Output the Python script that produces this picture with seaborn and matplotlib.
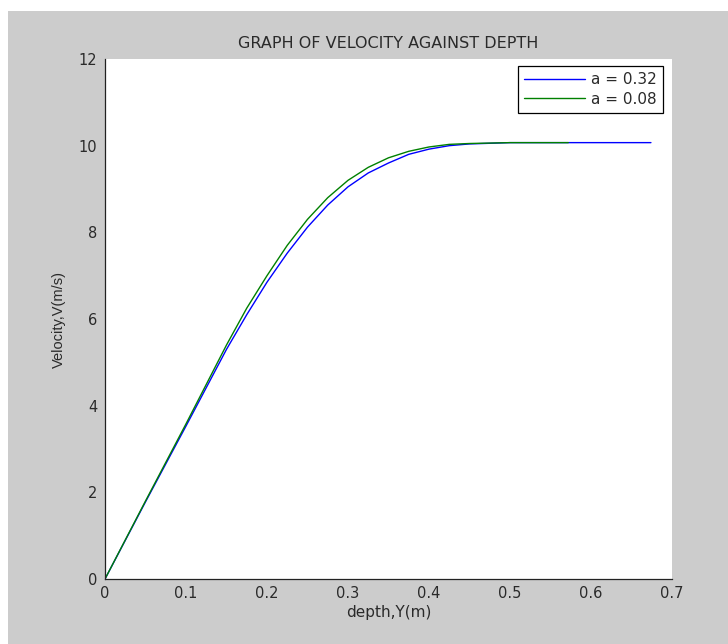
import pandas as pd
import seaborn as sns
import matplotlib.pyplot as plt
from matplotlib.patches import Rectangle

# values
depth_a032 = [0, 0.05, 0.1, 0.15, 0.175, 0.2, 0.225, 0.25, 0.275, 0.3, 0.325,
              0.35, 0.375, 0.4, 0.425, 0.45, 0.5, 0.674]
vel_a032 = [0, 1.78, 3.53, 5.3, 6.1, 6.85, 7.52, 8.12, 8.63, 9.05, 9.37,
            9.6, 9.8, 9.92, 10.0, 10.04, 10.07, 10.07]

depth_a008 = [0, 0.05, 0.1, 0.15, 0.175, 0.2, 0.225, 0.25, 0.275, 0.3, 0.325,
              0.35, 0.375, 0.4, 0.425, 0.45, 0.5, 0.572]
vel_a008 = [0, 1.8, 3.58, 5.4, 6.25, 7.0, 7.7, 8.3, 8.8, 9.2, 9.5,
            9.72, 9.87, 9.97, 10.03, 10.05, 10.07, 10.07]

labels = ['a = 0.32', 'a = 0.08']
x_ticks = [0, 0.1, 0.2, 0.3, 0.4, 0.5, 0.6, 0.7]
y_ticks = [0, 2, 4, 6, 8, 10, 12]

df = pd.concat([
    pd.DataFrame({'depth': depth_a032, 'velocity': vel_a032, 'series': labels[0]}),
    pd.DataFrame({'depth': depth_a008, 'velocity': vel_a008, 'series': labels[1]}),
], ignore_index=True)

sns.set_style('white')
plt.rcParams['font.family'] = ['DejaVu Sans']

fig = plt.figure(figsize=(7.28, 6.44), dpi=100, facecolor='white')
fig.patches.append(Rectangle((8 / 728, 0), 1, 1 - 11 / 644, transform=fig.transFigure,
                             facecolor='#cccccc', edgecolor='none', zorder=-1))

ax = fig.add_axes([105 / 728, 65 / 644, 567 / 728, 520 / 644])
ax.set_facecolor('white')

sns.lineplot(data=df, x='depth', y='velocity', hue='series',
             palette={labels[0]: '#0000ff', labels[1]: '#008000'},
             estimator=None, sort=False, linewidth=1.0, ax=ax)

ax.set_xlim(0, 0.7)
ax.set_ylim(0, 12)
ax.set_xticks(x_ticks)
ax.set_xticklabels([f'{t:g}' for t in x_ticks])
ax.set_yticks(y_ticks)
ax.tick_params(direction='in', length=4, width=0.8, color='#222222',
               labelsize=10.5, labelcolor='#2a2a2a')
ax.tick_params(axis='x', pad=5)
ax.tick_params(axis='y', pad=5.5)
for side in ['top', 'right']:
    ax.spines[side].set_visible(False)
for side in ['left', 'bottom']:
    ax.spines[side].set_color('#222222')
    ax.spines[side].set_linewidth(0.9)

ax.set_title('GRAPH OF VELOCITY AGAINST DEPTH', fontsize=11.5, color='#2a2a2a', pad=8)
ax.set_xlabel('depth,Y(m)', fontsize=11, color='#2a2a2a', labelpad=3)
ax.set_ylabel('Velocity,V(m/s)', fontsize=10.5, family='Liberation Sans',
              color='#2a2a2a', labelpad=9)

leg = ax.legend(loc='upper right', bbox_to_anchor=(0.984, 0.9865), borderaxespad=0,
                prop={'size': 11}, frameon=True, fancybox=False, framealpha=1,
                edgecolor='black', handlelength=4.0, handletextpad=0.4,
                borderpad=0.4, labelspacing=0.3)
leg.get_frame().set_linewidth(0.9)
for text in leg.get_texts():
    text.set_color('#2a2a2a')

fig.savefig('out.png', dpi=100, facecolor=fig.get_facecolor())
